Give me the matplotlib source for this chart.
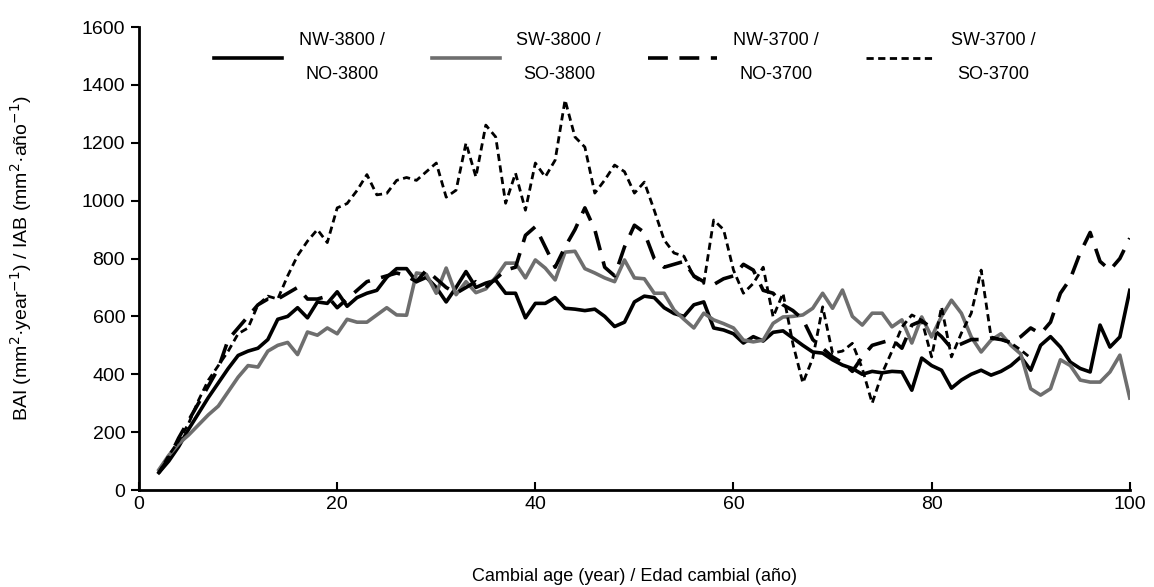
import matplotlib
matplotlib.use("Agg")
import matplotlib.pyplot as plt

plt.rcParams['font.family'] = ['Liberation Sans', 'DejaVu Sans']

ages = list(range(2, 101))
nw3800 = [60, 100, 150, 210, 265, 320, 370, 420, 465, 480, 490, 520, 590, 600, 630, 595, 650, 645, 685, 635,
          665, 680, 690, 735, 765, 765, 720, 735, 700, 650, 700, 755, 700, 715, 725, 680, 680, 595, 645, 645,
          665, 628, 625, 620, 625, 600, 565, 580, 650, 670, 665, 630, 610, 600, 640, 650, 560, 553, 540, 508,
          530, 515, 545, 550, 525, 500, 477, 473, 450, 432, 420, 400, 410, 405, 410, 408, 345, 456, 430, 414,
          352, 380, 400, 414, 397, 410, 430, 460, 414, 500, 530, 494, 442, 420, 408, 570, 494, 529, 690]
sw3800 = [70, 120, 160, 190, 225, 260, 290, 340, 390, 430, 425, 480, 500, 510, 468, 546, 535, 560, 540, 590,
          580, 580, 605, 630, 605, 604, 750, 745, 680, 767, 675, 720, 682, 695, 735, 784, 784, 733, 795, 767,
          726, 822, 825, 765, 750, 733, 720, 795, 733, 730, 680, 680, 622, 590, 560, 611, 588, 575, 560, 518,
          512, 518, 576, 598, 600, 605, 628, 680, 628, 691, 600, 570, 611, 611, 564, 588, 508, 598, 529, 600,
          656, 611, 529, 477, 518, 540, 500, 470, 350, 328, 350, 450, 430, 380, 373, 373, 408, 466, 318]
nw3700 = [60, 110, 180, 240, 300, 360, 420, 520, 560, 600, 640, 660, 660, 680, 700, 660, 660, 670, 630, 660,
          690, 720, 730, 740, 750, 740, 720, 760, 730, 700, 680, 700, 720, 700, 730, 760, 770, 880, 910, 840,
          770, 840, 900, 975, 900, 770, 740, 840, 915, 890, 800, 770, 780, 790, 740, 720, 710, 730, 740, 780,
          760, 690, 680, 640, 620, 590, 520, 490, 460, 440, 410, 460, 500, 510, 520, 490, 570, 585, 560, 530,
          490, 505, 520, 520, 525, 520, 510, 530, 560, 540, 580, 680, 730, 820, 890, 790, 760, 800, 870]
ages_sw3700 = list(range(2, 91))
sw3700 = [60, 120, 170, 230, 310, 380, 430, 480, 540, 560, 640, 670, 660, 740, 810, 860, 900, 855, 975, 990,
          1035, 1090, 1020, 1025, 1070, 1080, 1070, 1100, 1130, 1012, 1036, 1199, 1082, 1261, 1220, 991, 1095, 967, 1130, 1082,
          1140, 1348, 1220, 1185, 1026, 1071, 1123, 1100, 1026, 1064, 967, 864, 819, 808, 737, 714, 933, 900, 760, 680,
          714, 770, 598, 680, 505, 370, 455, 633, 473, 480, 507, 420, 300, 403, 480, 563, 605, 587, 460, 633,
          460, 542, 611, 760, 529, 520, 508, 484, 456]

labels = ['NW-3800 /\nNO-3800', 'SW-3800 /\nSO-3800', 'NW-3700 /\nNO-3700', 'SW-3700 /\nSO-3700']
xticks = [0, 20, 40, 60, 80, 100]
yticks = [0, 200, 400, 600, 800, 1000, 1200, 1400, 1600]

fig = plt.figure(figsize=(11.54, 5.87), dpi=100)
ax = fig.add_axes([0.1205, 0.1652, 0.8585, 0.7888])

ax.plot(ages, nw3800, color='black', lw=2.6, label=labels[0])
ax.plot(ages, sw3800, color='#6e6e6e', lw=2.6, label=labels[1])
ax.plot(ages, nw3700, color='black', lw=2.6, linestyle=(0, (5.5, 3.2)), label=labels[2])
ax.plot(ages_sw3700, sw3700, color='black', lw=2.0, linestyle=(0, (2.6, 1.6)), label=labels[3])

ax.set_xlim(0, 100)
ax.set_ylim(0, 1600)
ax.set_xticks(xticks)
ax.set_yticks(yticks)
ax.tick_params(axis='x', direction='in', length=6, width=1.5, labelsize=14, pad=4)
ax.tick_params(axis='y', direction='out', length=6, width=1.5, labelsize=14, pad=4)
for s in ['top', 'right']:
    ax.spines[s].set_visible(False)
for s in ['left', 'bottom']:
    ax.spines[s].set_linewidth(2)

ax.set_xlabel('Cambial age (year) / Edad cambial (año)', fontsize=13, labelpad=40)
ax.set_ylabel('BAI (mm$^{2}$·year$^{-1}$) / IAB (mm$^{2}$·año$^{-1}$)', fontsize=14, labelpad=34)

leg = ax.legend(loc='upper center', bbox_to_anchor=(0.49, 1.005), ncol=4, frameon=False,
                fontsize=13, handlelength=3.8, columnspacing=2.6, handletextpad=0.9,
                borderaxespad=0)
for t in leg.get_texts():
    t.set_multialignment('center')
    t.set_linespacing(2.3)

fig.savefig('out.png', dpi=100)
